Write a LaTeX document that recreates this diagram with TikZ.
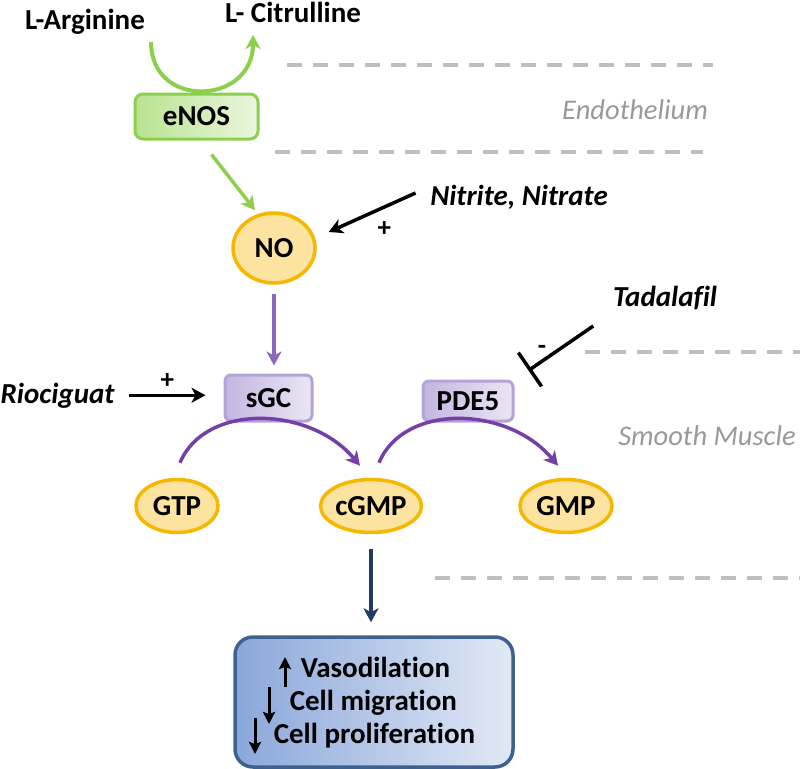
\documentclass[tikz,border=0pt]{standalone}
\usepackage{fontspec}
\setmainfont{Carlito}[Ligatures=NoCommon]
\usetikzlibrary{arrows.meta,shapes.geometric}

\definecolor{enosgreen}{HTML}{8CCF4D}
\definecolor{enosfill}{HTML}{B8E390}
\definecolor{molfill}{HTML}{FDE3A0}
\definecolor{moldraw}{HTML}{F5B700}
\definecolor{enzfill}{HTML}{C4B6E0}
\definecolor{enzdraw}{HTML}{B4A3D8}
\definecolor{cgpurple}{HTML}{7440A8}
\definecolor{nopurple}{HTML}{8A68BE}
\definecolor{outblue}{HTML}{1F3A63}
\definecolor{boxblue}{HTML}{8AA7DA}
\definecolor{boxline}{HTML}{3F6190}
\definecolor{sepgray}{HTML}{BFBFBF}
\definecolor{labgray}{HTML}{999999}

\begin{document}
\begin{tikzpicture}[x=1pt,y=-1pt,->,>={Stealth[length=14pt,width=15pt,inset=4pt]},
                    line width=3.5pt,font=\fontsize{29}{34}\selectfont\bfseries]

  \tikzstyle{txt}=[inner sep=0pt,anchor=base]
  \tikzstyle{drug}=[txt,font=\fontsize{29}{34}\selectfont\bfseries\itshape]
  \tikzstyle{region}=[txt,font=\fontsize{28.5}{34}\selectfont\itshape,text=labgray]
  \tikzstyle{sign}=[inner sep=0pt,font=\fontsize{27}{30}\selectfont\bfseries]
  \tikzstyle{mol}=[ellipse,draw=moldraw,fill=molfill,inner sep=0pt]
  \tikzstyle{enzyme}=[rectangle,rounded corners=6pt,draw=enzdraw,left color=enzfill,
                      right color=enzfill!35,line width=3pt]
  \tikzstyle{divider}=[-,draw=sepgray,line width=4.5pt,dash pattern=on 15pt off 11pt]
  \tikzstyle{updown}=[-{Stealth[length=12pt,width=12pt,inset=2pt]},line width=3pt]

  \useasboundingbox (0,0) rectangle (800,768);

  \draw[divider] (287,65) -- (713,65);
  \draw[divider] (275,152) -- (703,152);
  \draw[divider] (585,352) -- (800,352);
  \draw[divider] (435,578) -- (800,578);

  \node[txt] (ARG) at (85,30) {L-Arginine};
  \node[txt] (CIT) at (293,23) {L- Citrulline};
  \node[enzyme,draw=enosgreen,left color=enosfill,right color=enosfill!30,
        rounded corners=8pt,minimum width=123pt,minimum height=45pt] (ENOS) at (196.5,116.5) {eNOS};
  \node[region] (ENDO) at (635,119) {Endothelium};
  \node[mol,minimum width=82pt,minimum height=70pt] (NO) at (274,248) {NO};
  \node[drug] (NIT) at (519,205) {Nitrite, Nitrate};
  \node[enzyme,minimum width=87pt,minimum height=46pt] (SGC) at (268.5,398) {sGC};
  \node[enzyme,minimum width=90pt,minimum height=40pt] (PDE) at (468,401) {PDE5};
  \node[drug] (RIO) at (57.5,403) {Riociguat};
  \node[drug] (TAD) at (665,306) {Tadalafil};
  \node[region] (SMC) at (707,445) {Smooth Muscle};
  \node[mol,minimum width=82pt,minimum height=53pt] (GTP) at (177,506) {GTP};
  \node[mol,minimum width=94pt,minimum height=53pt] (CGMP) at (371,506) {cGMP};
  \node[mol,minimum width=92pt,minimum height=53pt] (GMP) at (566,506) {GMP};
  \node[rectangle,rounded corners=18pt,draw=boxline,left color=boxblue,right color=boxblue!25,
        minimum width=278pt,minimum height=130pt] (RES) at (374,702) {};
  \node[txt,anchor=base west] (VASO) at (299,677) {Vasodilation};
  \node[txt,anchor=base west] (MIGR) at (288,710) {Cell migration};
  \node[txt,anchor=base west] (PROL) at (272,743) {Cell proliferation};

  \coordinate (argout) at (151,42);
  \coordinate (citin) at (253,35);

  \draw[enosgreen,line width=4pt] (argout) .. controls +(0,68) and +(0,70) .. (citin);
  \draw[enosgreen] ([xshift=15pt,yshift=-14pt]ENOS.south) -- ([xshift=-19pt,yshift=1pt]NO.north);
  \draw ([xshift=-13pt,yshift=12pt]NIT.base west) -- ([xshift=12pt,yshift=16pt]NO.east)
        node[sign,pos=0.36,below=13pt] (PLUSN) {+};
  \draw[nopurple] ([yshift=-9pt]NO.south) -- ([yshift=8pt]NO.south |- SGC.north);
  \draw ([xshift=13pt]RIO.east) -- ([xshift=-18pt]RIO.east -| SGC.west)
        node[sign,midway,above=5pt] (PLUSR) {+};
  \draw[cgpurple] ([xshift=3pt,yshift=15pt]GTP.north) .. controls +(25,-60) and +(-50,-60) ..
        ([xshift=-11pt,yshift=12pt]CGMP.north);
  \draw[cgpurple] ([xshift=8pt,yshift=15pt]CGMP.north) .. controls +(25,-60) and +(-50,-60) ..
        ([xshift=-8pt,yshift=12pt]GMP.north);
  \draw[-{Bar[width=41pt]}] ([xshift=-18pt,yshift=-20pt]TAD.base west) -- ([xshift=14pt,yshift=9pt]PDE.north east)
        node[sign,pos=0.79,above=5pt] (MINUS) {-};
  \draw[outblue] ([yshift=-15pt]CGMP.south) -- ([yshift=13pt]CGMP.south |- RES.north);

  \draw[updown] (285,687) -- (285,657);
  \draw[updown] (269,687) -- (269,724);
  \draw[updown] (255,718) -- (255,754);
\end{tikzpicture}
\end{document}
